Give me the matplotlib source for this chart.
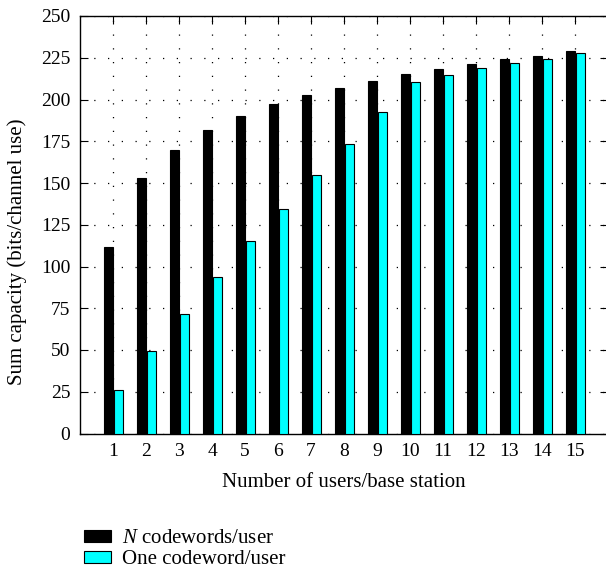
import numpy as np
import matplotlib
matplotlib.use("Agg")
import matplotlib.pyplot as plt

users = list(range(1, 16))
n_codewords = [111.4, 152.8, 169.9, 181.5, 190.1, 197.1, 202.5, 207.1,
               211.1, 215.1, 218.3, 221.5, 224.5, 226.3, 229.1]
one_codeword = [26.1, 49.7, 71.7, 93.7, 115.0, 134.4, 154.9, 173.3,
                192.3, 210.7, 214.7, 218.7, 222.1, 224.5, 227.7]
y_ticks = list(range(0, 251, 25))

plt.rcParams['font.family'] = ['Liberation Serif', 'DejaVu Serif']
plt.rcParams['mathtext.fontset'] = 'custom'
plt.rcParams['mathtext.it'] = 'Liberation Serif:italic'

fig = plt.figure(figsize=(6.06, 5.71), dpi=100)
W, H = 606, 571
ax = fig.add_axes([80 / W, 1 - 433.5 / H, (608 - 80) / W, (433.5 - 16) / H])

x = np.array(users)
w = 0.26
ax.bar(x - w / 2, n_codewords, width=w, color='black', edgecolor='black',
       linewidth=0.8, label='$N$ codewords/user', zorder=3)
ax.bar(x + w / 2 + 0.03, one_codeword, width=w, color='cyan', edgecolor='black',
       linewidth=0.8, label='One codeword/user', zorder=3)

ax.set_xlim(0, 16)
ax.set_ylim(0, 250)
ax.set_xticks(users)
ax.set_yticks(y_ticks)
ax.tick_params(direction='in', length=6, top=True, right=True, labelsize=14, pad=7)
ax.grid(True, color='black', linestyle=(0, (1, 10)), linewidth=0.9, zorder=0)
for s in ax.spines.values():
    s.set_linewidth(1.0)

ax.set_xlabel('Number of users/base station', fontsize=15, labelpad=9)
ax.set_ylabel('Sum capacity (bits/channel use)', fontsize=15)
ax.yaxis.set_label_coords(-0.1, 0.435)

fig.legend(loc='upper left', bbox_to_anchor=(76 / W, 1 - 521 / H), frameon=False,
           fontsize=15, handlelength=1.3, handleheight=0.45, handletextpad=0.5,
           labelspacing=0.1, borderaxespad=0)

fig.savefig('out.png', dpi=100)
